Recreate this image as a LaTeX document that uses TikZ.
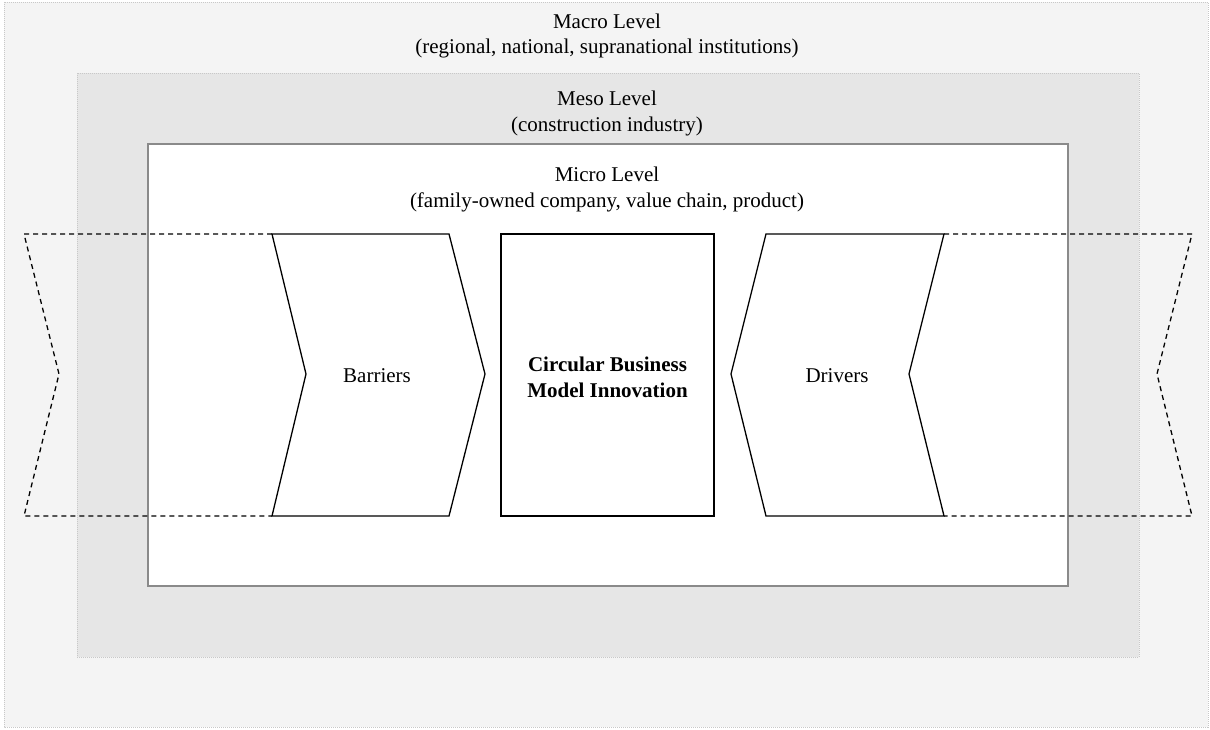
\documentclass[tikz,border=0pt]{standalone}
\usepackage{fontspec}
\setmainfont{Liberation Serif}
\definecolor{macrofill}{HTML}{F4F4F4}
\definecolor{mesofill}{HTML}{E6E6E6}
\definecolor{levelborder}{HTML}{C8C8C8}
\definecolor{microborder}{HTML}{8A8A8A}
\begin{document}
\begin{tikzpicture}[x=1pt,y=-1pt,
  levelbox/.style={draw=levelborder,line width=1pt,dash pattern=on 1pt off 1pt},
  microbox/.style={draw=microborder,fill=white,line width=2pt},
  solidshape/.style={draw=black,fill=white,line width=1.3pt,line join=miter},
  dashshape/.style={draw=black,line width=1.3pt,dash pattern=on 5pt off 4pt},
  lbl/.style={inner sep=0pt,anchor=base,font=\fontsize{21}{25.5}\selectfont},
  blbl/.style={lbl,font=\fontsize{21}{25.5}\selectfont\bfseries}]
\useasboundingbox (0,0) rectangle (1210,729);
% level boxes
\path[levelbox,fill=macrofill] (4,2) rectangle (1208,727);
\path[levelbox,fill=mesofill] (77,73) rectangle (1139,657);
\path[microbox] (148,144) rectangle (1068,586);
% level labels
\node[lbl] (macro1) at (607,28) {Macro Level};
\node[lbl] (macro2) at (607,53) {(regional, national, supranational institutions)};
\node[lbl] (meso1) at (607,105) {Meso Level};
\node[lbl] (meso2) at (607,131) {(construction industry)};
\node[lbl] (micro1) at (607,181) {Micro Level};
\node[lbl] (micro2) at (607,207) {(family-owned company, value chain, product)};
% dashed outer chevron parts
\draw[dashshape] (272,234) -- (24,234) -- (59,374) -- (24,516) -- (272,516);
\draw[dashshape] (944,234) -- (1192,234) -- (1157,374) -- (1192,516) -- (944,516);
% barriers chevron
\draw[solidshape] (272,234) -- (449,234) -- (485,374) -- (449,516) -- (272,516) -- (306,374) -- cycle;
% CBMI box
\draw[solidshape] (501,234) rectangle (714,516);
% drivers chevron
\draw[solidshape] (766,234) -- (944,234) -- (909,374) -- (944,516) -- (766,516) -- (731,374) -- cycle;
% texts
\node[lbl] (barriers) at (377,382) {Barriers};
\node[lbl] (drivers) at (837,382) {Drivers};
\node[blbl] (cbmi1) at (607.5,371) {Circular Business};
\node[blbl] (cbmi2) at (607.5,397) {Model Innovation};
\end{tikzpicture}
\end{document}
